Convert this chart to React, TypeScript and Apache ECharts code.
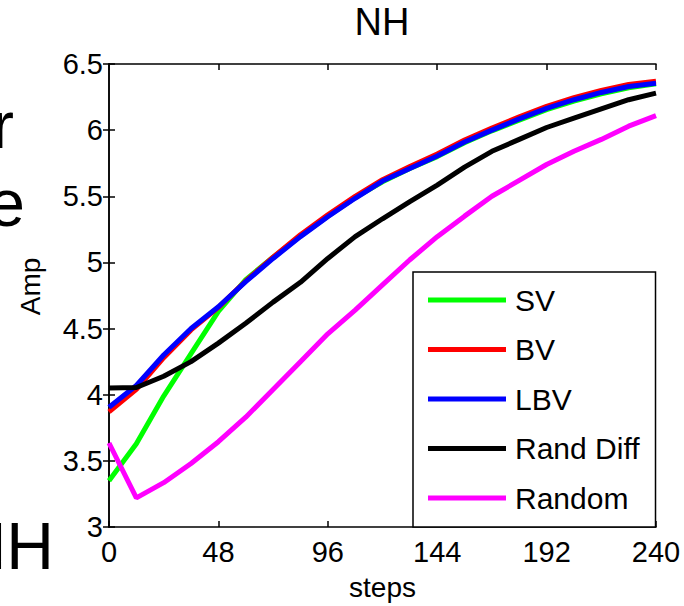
import React, { useEffect, useRef } from "react";
import * as echarts from "echarts";

const steps = [0, 12, 24, 36, 48, 60, 72, 84, 96, 108, 120, 132, 144, 156, 168, 180, 192, 204, 216, 228, 240];
const seriesNames = ["SV", "BV", "LBV", "Rand Diff", "Random"];
const seriesColors = ["#00ff00", "#ff0000", "#0000ff", "#000000", "#ff00ff"];
const svValues = [3.35, 3.63, 3.99, 4.31, 4.63, 4.87, 5.04, 5.2, 5.35, 5.49, 5.61, 5.71, 5.8, 5.905, 5.995, 6.075, 6.155, 6.22, 6.275, 6.32, 6.35];
const bvValues = [3.87, 4.04, 4.28, 4.49, 4.66, 4.86, 5.04, 5.21, 5.36, 5.5, 5.625, 5.725, 5.82, 5.925, 6.015, 6.1, 6.18, 6.245, 6.3, 6.345, 6.37];
const lbvValues = [3.905, 4.07, 4.3, 4.5, 4.665, 4.855, 5.03, 5.195, 5.345, 5.485, 5.615, 5.71, 5.805, 5.91, 6.0, 6.085, 6.165, 6.23, 6.285, 6.33, 6.355];
const randDiffValues = [4.05, 4.055, 4.14, 4.25, 4.39, 4.54, 4.7, 4.85, 5.03, 5.195, 5.33, 5.46, 5.585, 5.72, 5.84, 5.93, 6.02, 6.09, 6.16, 6.23, 6.28];
const randomValues = [3.635, 3.22, 3.335, 3.48, 3.645, 3.83, 4.04, 4.25, 4.46, 4.64, 4.83, 5.02, 5.195, 5.35, 5.5, 5.62, 5.74, 5.84, 5.93, 6.03, 6.11];
const allValues = [svValues, bvValues, lbvValues, randDiffValues, randomValues];
const xTicks = { min: 0, max: 240, interval: 48 };
const yTicks = { min: 3, max: 6.5, interval: 0.5 };
const titleText = "NH";
const xName = "steps";
const yName = "Amp";
const fragments = ["r", "e", "NH"];

export default function App() {
  const ref = useRef<HTMLDivElement>(null);
  useEffect(() => {
    document.body.style.margin = "0";
    const chart = echarts.init(ref.current!, null, { renderer: "svg" });
    const font = "Liberation Sans, Arial, Helvetica, sans-serif";
    const axisLine = { show: true, lineStyle: { color: "#000", width: 1.5 } };
    const axisTick = { show: true, inside: true, length: 6, lineStyle: { color: "#000", width: 1.5 } };
    chart.setOption({
      animation: false,
      backgroundColor: "#fff",
      title: {
        text: titleText,
        left: 382,
        top: 3,
        textAlign: "center",
        padding: 0,
        textStyle: { fontSize: 38, fontWeight: "normal", color: "#000", fontFamily: font },
      },
      grid: { left: 109, top: 64, right: 28, bottom: 79, containLabel: false },
      legend: {
        orient: "vertical",
        left: 413,
        top: 272,
        padding: [13, 16, 14, 15],
        itemGap: 19.5,
        itemWidth: 78,
        itemHeight: 5,
        icon: "rect",
        borderColor: "#000",
        borderWidth: 1.5,
        borderRadius: 0,
        backgroundColor: "#fff",
        z: 10,
        textStyle: { fontSize: 30, color: "#000", fontFamily: font, padding: [0, 0, 0, 4] },
        data: seriesNames,
      },
      xAxis: [
        {
          type: "value",
          position: "bottom",
          ...xTicks,
          axisLine,
          axisTick,
          splitLine: { show: false },
          axisLabel: { color: "#000", fontSize: 29, margin: 10, fontFamily: font },
          name: xName,
          nameLocation: "middle",
          nameGap: 46,
          nameTextStyle: { fontSize: 28, color: "#000", fontFamily: font },
        },
        {
          type: "value",
          position: "top",
          ...xTicks,
          axisLine,
          axisTick,
          splitLine: { show: false },
          axisLabel: { show: false },
        },
      ],
      yAxis: [
        {
          type: "value",
          position: "left",
          ...yTicks,
          axisLine,
          axisTick,
          splitLine: { show: false },
          axisLabel: { color: "#000", fontSize: 29, margin: 6, fontFamily: font },
          name: yName,
          nameLocation: "middle",
          nameGap: 65,
          nameTextStyle: { fontSize: 28, color: "#000", fontFamily: font, padding: [0, 0, 0, 18] },
        },
        {
          type: "value",
          position: "right",
          ...yTicks,
          axisLine,
          axisTick,
          splitLine: { show: false },
          axisLabel: { show: false },
        },
      ],
      graphic: [
        { type: "text", right: 684 - 14, top: 92, style: { text: fragments[0], fontSize: 66, fill: "#000", fontFamily: font } },
        { type: "text", right: 684 - 25, top: 170, style: { text: fragments[1], fontSize: 66, fill: "#000", fontFamily: font } },
        { type: "text", right: 684 - 54, top: 513, style: { text: fragments[2], fontSize: 66, fill: "#000", fontFamily: font } },
      ],
      series: seriesNames.map((name, i) => ({
        name,
        type: "line",
        data: steps.map((s, j) => [s, allValues[i][j]]),
        showSymbol: false,
        symbol: "none",
        smooth: false,
        lineStyle: { color: seriesColors[i], width: 5 },
        itemStyle: { color: seriesColors[i] },
        z: 2 + i,
      })),
    });
    return () => chart.dispose();
  }, []);
  return <div ref={ref} style={{ width: 684, height: 606 }} />;
}
